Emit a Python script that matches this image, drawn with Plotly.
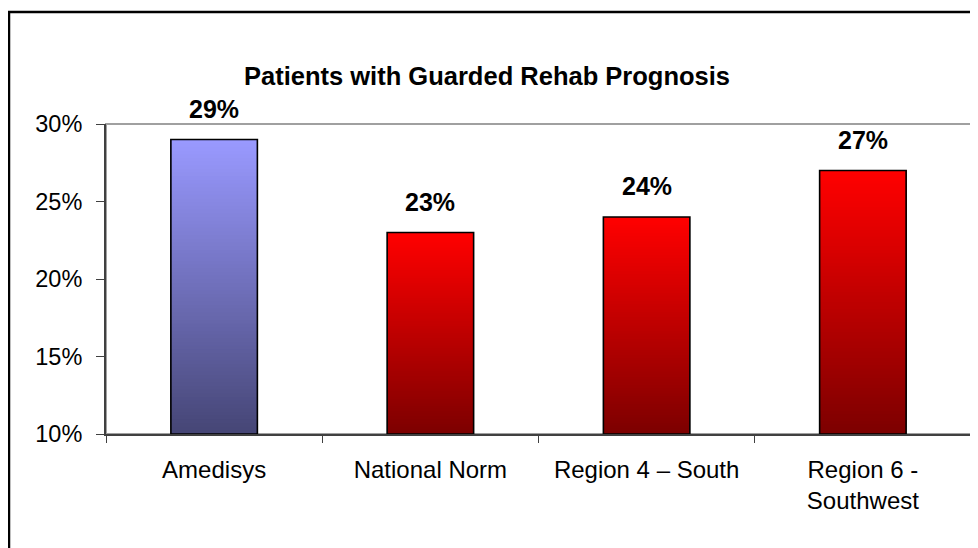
import plotly.graph_objects as go

categories = ["Amedisys", "National Norm", "Region 4 – South", "Region 6 -<br>Southwest"]
values = [29, 23, 24, 27]
value_labels = ["29%", "23%", "24%", "27%"]
y_ticks = [10, 15, 20, 25, 30]
y_tick_labels = ["10%", "15%", "20%", "25%", "30%"]
title_text = "Patients with Guarded Rehab Prognosis"

BASE = 10
N = 80
top_colors = [(153, 153, 255), (255, 0, 0), (255, 0, 0), (255, 0, 0)]
bottom_colors = [(70, 70, 118), (125, 0, 0), (125, 0, 0), (125, 0, 0)]

FONT = "Liberation Sans, Arial, sans-serif"
# page body has an 8px margin, so the figure is drawn 8px in from the window corner
W, H = 970, 540
L, R, T, B = 98, 7, 116, 114

fig = go.Figure()

for i in range(N):
    f = i / (N - 1)
    cols = []
    bases = []
    heights = []
    for k, v in enumerate(values):
        b = BASE + (v - BASE) * i / N
        bases.append(b)
        heights.append(v - b)
        c = tuple(round(bottom_colors[k][j] + (top_colors[k][j] - bottom_colors[k][j]) * f) for j in range(3))
        cols.append("rgb(%d,%d,%d)" % c)
    fig.add_trace(go.Bar(x=categories, y=heights, base=bases, width=0.4,
                         marker=dict(color=cols, line=dict(width=0)),
                         hoverinfo="skip", showlegend=False))

fig.add_trace(go.Bar(x=categories, y=[v - BASE for v in values], base=[BASE] * len(values), width=0.4,
                     marker=dict(color="rgba(0,0,0,0)", line=dict(color="black", width=1.6)),
                     showlegend=False))

for c, v, t in zip(categories, values, value_labels):
    fig.add_annotation(x=c, y=v, text="<b>%s</b>" % t, showarrow=False, yanchor="bottom",
                       yshift=15, font=dict(family=FONT, size=25, color="black"))

pw = W - L - R
ph = H - T - B
# plot area frame (gray)
fig.add_shape(type="rect", xref="paper", yref="paper", x0=0, x1=1, y0=0, y1=1,
              line=dict(color="#a0a0a0", width=2), layer="below")
# outer chart frame
fig.add_shape(type="rect", xref="paper", yref="paper",
              x0=(1 - L) / pw, x1=(W + 30 - L) / pw,
              y0=(H - B - (H + 30)) / ph, y1=(H - B - 4) / ph,
              line=dict(color="black", width=2.5))

fig.update_layout(
    width=W, height=H,
    margin=dict(l=L, r=R, t=T, b=B),
    paper_bgcolor="white", plot_bgcolor="white",
    barmode="overlay",
    title=dict(text="<b>%s</b>" % title_text, x=479 / W, xanchor="center", xref="container",
               y=1 - 68 / H, yanchor="middle", yref="container",
               font=dict(family=FONT, size=25.5, color="black")),
    font=dict(family=FONT, size=23, color="black"),
    xaxis=dict(type="category", tickson="boundaries", ticks="outside", ticklen=7,
               tickcolor="#404040", showline=True, linecolor="#404040", linewidth=2,
               showgrid=False, zeroline=False, tickfont=dict(size=24), ticklabelstandoff=13,
               range=[-0.5, 3.5], automargin=False),
    yaxis=dict(range=[10, 30], tickvals=y_ticks, ticktext=y_tick_labels, ticks="outside",
               ticklen=8, tickcolor="#404040", showline=True, linecolor="#404040", linewidth=2,
               showgrid=False, zeroline=False, tickfont=dict(size=23.5), ticklabelstandoff=9,
               automargin=False),
)

fig.write_html("out.html")
